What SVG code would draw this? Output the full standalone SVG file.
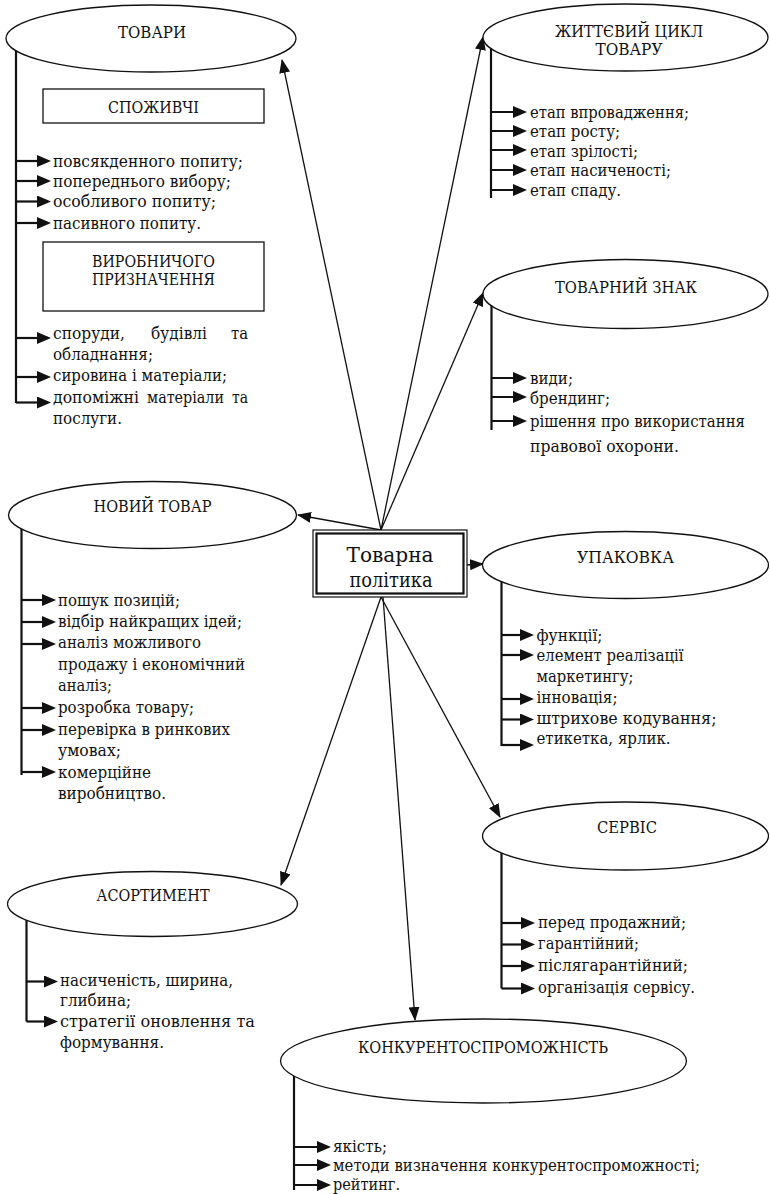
<svg xmlns="http://www.w3.org/2000/svg" width="770" height="1194" viewBox="0 0 770 1194">
<style>
text{font-family:"DejaVu Serif","Liberation Serif",serif;fill:#111}
.lbl{font-size:16px;text-anchor:middle}
.itm{font-size:16px}
.ctr{font-size:21px;text-anchor:middle}
.ell{fill:#fff;stroke:#111;stroke-width:1.3}
.box{fill:#fff;stroke:#111;stroke-width:1.3}
.vl{fill:none;stroke:#111;stroke-width:2.2}
.ia{stroke:#111;stroke-width:2.2;marker-end:url(#ih)}
.conn{stroke:#111;stroke-width:1.3;fill:none;marker-end:url(#ch)}
</style>
<defs>
<marker id="ih" markerUnits="userSpaceOnUse" markerWidth="14" markerHeight="12" refX="11" refY="6" orient="auto"><path d="M0,0 L14,6 L0,12 z" fill="#111"/></marker>
<marker id="ch" markerUnits="userSpaceOnUse" markerWidth="14" markerHeight="11" refX="13" refY="5.5" orient="auto"><path d="M0,0 L14,5.5 L0,11 z" fill="#111"/></marker>
</defs>
<rect width="770" height="1194" fill="#fff"/>

<g id="connectors">
<line class="conn" x1="381" y1="530" x2="282" y2="60"/>
<line class="conn" x1="381" y1="530" x2="483" y2="37"/>
<line class="conn" x1="381" y1="530" x2="483" y2="293"/>
<line class="conn" x1="381" y1="530" x2="298" y2="515"/>
<line class="conn" x1="466" y1="565" x2="483" y2="564"/>
<line class="conn" x1="381" y1="597" x2="500" y2="817"/>
<line class="conn" x1="383" y1="597" x2="415" y2="1020"/>
<line class="conn" x1="381" y1="597" x2="281" y2="885"/>
</g>

<g id="center">
<rect x="313" y="530" width="154" height="67" fill="#fff" stroke="#111" stroke-width="1.2"/>
<rect x="316.5" y="533.5" width="147" height="60" fill="none" stroke="#111" stroke-width="2.2"/>
<text class="ctr" x="390" y="562" textLength="87" lengthAdjust="spacingAndGlyphs">Товарна</text>
<text class="ctr" x="391" y="587" textLength="83" lengthAdjust="spacingAndGlyphs">політика</text>
</g>

<g id="tovary">
<ellipse class="ell" cx="151" cy="38.5" rx="145" ry="33.5"/>
<text class="lbl" x="152" y="38" textLength="68" lengthAdjust="spacingAndGlyphs">ТОВАРИ</text>
<path class="vl" d="M16,50.5 V403"/>
<rect class="box" x="43" y="89" width="221" height="34"/>
<text class="lbl" x="153.5" y="113" textLength="91" lengthAdjust="spacingAndGlyphs">СПОЖИВЧІ</text>
<line class="ia" x1="16" y1="161" x2="48" y2="161"/>
<line class="ia" x1="16" y1="181" x2="48" y2="181"/>
<line class="ia" x1="16" y1="201.5" x2="48" y2="201.5"/>
<line class="ia" x1="16" y1="223" x2="48" y2="223"/>
<text class="itm" x="53" y="167" textLength="190" lengthAdjust="spacingAndGlyphs">повсякденного попиту;</text>
<text class="itm" x="53" y="187" textLength="178" lengthAdjust="spacingAndGlyphs">попереднього вибору;</text>
<text class="itm" x="53" y="207" textLength="163" lengthAdjust="spacingAndGlyphs">особливого попиту;</text>
<text class="itm" x="53" y="229" textLength="148" lengthAdjust="spacingAndGlyphs">пасивного попиту.</text>
<rect class="box" x="43" y="242" width="221" height="69"/>
<text class="lbl" x="153.5" y="266.5" textLength="123" lengthAdjust="spacingAndGlyphs">ВИРОБНИЧОГО</text>
<text class="lbl" x="153.5" y="285" textLength="123" lengthAdjust="spacingAndGlyphs">ПРИЗНАЧЕННЯ</text>
<line class="ia" x1="16" y1="338" x2="48" y2="338"/>
<line class="ia" x1="16" y1="377" x2="48" y2="377"/>
<line class="ia" x1="16" y1="402.5" x2="48" y2="402.5"/>
<text class="itm" x="53" y="339" textLength="72" lengthAdjust="spacingAndGlyphs">споруди,</text>
<text class="itm" x="151" y="339" textLength="56" lengthAdjust="spacingAndGlyphs">будівлі</text>
<text class="itm" x="231" y="339" textLength="17" lengthAdjust="spacingAndGlyphs">та</text>
<text class="itm" x="53" y="360" textLength="100" lengthAdjust="spacingAndGlyphs">обладнання;</text>
<text class="itm" x="53" y="381" textLength="174" lengthAdjust="spacingAndGlyphs">сировина і матеріали;</text>
<text class="itm" x="53" y="403" textLength="86" lengthAdjust="spacingAndGlyphs">допоміжні</text>
<text class="itm" x="147" y="403" textLength="77" lengthAdjust="spacingAndGlyphs">матеріали</text>
<text class="itm" x="232" y="403" textLength="16" lengthAdjust="spacingAndGlyphs">та</text>
<text class="itm" x="53" y="424" textLength="69" lengthAdjust="spacingAndGlyphs">послуги.</text>
</g>

<g id="zhyttievyi-tsykl">
<ellipse class="ell" cx="625.5" cy="37.5" rx="142.5" ry="33.5"/>
<text class="lbl" x="629" y="37" textLength="148" lengthAdjust="spacingAndGlyphs">ЖИТТЄВИЙ ЦИКЛ</text>
<text class="lbl" x="629" y="55" textLength="67" lengthAdjust="spacingAndGlyphs">ТОВАРУ</text>
<path class="vl" d="M491,48.5 V198"/>
<line class="ia" x1="491" y1="112" x2="524" y2="112"/>
<line class="ia" x1="491" y1="131" x2="524" y2="131"/>
<line class="ia" x1="491" y1="150" x2="524" y2="150"/>
<line class="ia" x1="491" y1="170" x2="524" y2="170"/>
<line class="ia" x1="491" y1="190" x2="524" y2="190"/>
<text class="itm" x="530" y="118" textLength="159" lengthAdjust="spacingAndGlyphs">етап впровадження;</text>
<text class="itm" x="530" y="137" textLength="90" lengthAdjust="spacingAndGlyphs">етап росту;</text>
<text class="itm" x="530" y="156.5" textLength="108" lengthAdjust="spacingAndGlyphs">етап зрілості;</text>
<text class="itm" x="530" y="176" textLength="141" lengthAdjust="spacingAndGlyphs">етап насиченості;</text>
<text class="itm" x="530" y="196" textLength="91" lengthAdjust="spacingAndGlyphs">етап спаду.</text>
</g>

<g id="tovarnyi-znak">
<ellipse class="ell" cx="625.5" cy="294" rx="142.5" ry="34.5"/>
<text class="lbl" x="626" y="293" textLength="142" lengthAdjust="spacingAndGlyphs">ТОВАРНИЙ ЗНАК</text>
<path class="vl" d="M491.5,305.5 V430"/>
<line class="ia" x1="491.5" y1="378" x2="524" y2="378"/>
<line class="ia" x1="491.5" y1="397" x2="524" y2="397"/>
<line class="ia" x1="491.5" y1="421" x2="524" y2="421"/>
<text class="itm" x="530" y="384" textLength="43" lengthAdjust="spacingAndGlyphs">види;</text>
<text class="itm" x="530" y="404" textLength="80" lengthAdjust="spacingAndGlyphs">брендинг;</text>
<text class="itm" x="530" y="427" textLength="215" lengthAdjust="spacingAndGlyphs">рішення про використання</text>
<text class="itm" x="530" y="452" textLength="149" lengthAdjust="spacingAndGlyphs">правової охорони.</text>
</g>

<g id="novyi-tovar">
<ellipse class="ell" cx="152.5" cy="515" rx="144" ry="33.5"/>
<text class="lbl" x="152.5" y="512" textLength="118" lengthAdjust="spacingAndGlyphs">НОВИЙ ТОВАР</text>
<path class="vl" d="M21.5,529 V775"/>
<line class="ia" x1="21.5" y1="600" x2="53" y2="600"/>
<line class="ia" x1="21.5" y1="622" x2="53" y2="622"/>
<line class="ia" x1="21.5" y1="644" x2="53" y2="644"/>
<line class="ia" x1="21.5" y1="708" x2="53" y2="708"/>
<line class="ia" x1="21.5" y1="730" x2="53" y2="730"/>
<line class="ia" x1="21.5" y1="772" x2="53" y2="772"/>
<text class="itm" x="58" y="606" textLength="122" lengthAdjust="spacingAndGlyphs">пошук позицій;</text>
<text class="itm" x="58" y="627" textLength="184" lengthAdjust="spacingAndGlyphs">відбір найкращих ідей;</text>
<text class="itm" x="58" y="648" textLength="143" lengthAdjust="spacingAndGlyphs">аналіз можливого</text>
<text class="itm" x="58" y="670" textLength="187" lengthAdjust="spacingAndGlyphs">продажу і економічний</text>
<text class="itm" x="58" y="691" textLength="54" lengthAdjust="spacingAndGlyphs">аналіз;</text>
<text class="itm" x="58" y="713" textLength="136" lengthAdjust="spacingAndGlyphs">розробка товару;</text>
<text class="itm" x="58" y="735" textLength="172" lengthAdjust="spacingAndGlyphs">перевірка в ринкових</text>
<text class="itm" x="58" y="756" textLength="63" lengthAdjust="spacingAndGlyphs">умовах;</text>
<text class="itm" x="58" y="778" textLength="93" lengthAdjust="spacingAndGlyphs">комерційне</text>
<text class="itm" x="58" y="799" textLength="108" lengthAdjust="spacingAndGlyphs">виробництво.</text>
</g>

<g id="upakovka">
<ellipse class="ell" cx="625.5" cy="565" rx="143" ry="33.5"/>
<text class="lbl" x="625.5" y="563" textLength="97" lengthAdjust="spacingAndGlyphs">УПАКОВКА</text>
<path class="vl" d="M501.5,581.5 V746"/>
<line class="ia" x1="501.5" y1="635" x2="531" y2="635"/>
<line class="ia" x1="501.5" y1="655" x2="531" y2="655"/>
<line class="ia" x1="501.5" y1="699" x2="531" y2="699"/>
<line class="ia" x1="501.5" y1="719.5" x2="531" y2="719.5"/>
<line class="ia" x1="501.5" y1="745" x2="531" y2="745"/>
<text class="itm" x="536.5" y="641" textLength="66" lengthAdjust="spacingAndGlyphs">функції;</text>
<text class="itm" x="536.5" y="661" textLength="147" lengthAdjust="spacingAndGlyphs">елемент реалізації</text>
<text class="itm" x="536.5" y="682" textLength="97" lengthAdjust="spacingAndGlyphs">маркетингу;</text>
<text class="itm" x="536.5" y="703" textLength="81" lengthAdjust="spacingAndGlyphs">інновація;</text>
<text class="itm" x="536.5" y="724" textLength="180" lengthAdjust="spacingAndGlyphs">штрихове кодування;</text>
<text class="itm" x="536.5" y="744" textLength="134" lengthAdjust="spacingAndGlyphs">етикетка, ярлик.</text>
</g>

<g id="servis">
<ellipse class="ell" cx="625.5" cy="836" rx="143" ry="34"/>
<text class="lbl" x="627" y="833" textLength="60" lengthAdjust="spacingAndGlyphs">СЕРВІС</text>
<path class="vl" d="M501.5,853 V988.5"/>
<line class="ia" x1="501.5" y1="923" x2="532" y2="923"/>
<line class="ia" x1="501.5" y1="944.5" x2="532" y2="944.5"/>
<line class="ia" x1="501.5" y1="966" x2="532" y2="966"/>
<line class="ia" x1="501.5" y1="988.5" x2="532" y2="988.5"/>
<text class="itm" x="538" y="928" textLength="148" lengthAdjust="spacingAndGlyphs">перед продажний;</text>
<text class="itm" x="538" y="949" textLength="101" lengthAdjust="spacingAndGlyphs">гарантійний;</text>
<text class="itm" x="538" y="970.5" textLength="150" lengthAdjust="spacingAndGlyphs">післягарантійний;</text>
<text class="itm" x="538" y="993" textLength="157" lengthAdjust="spacingAndGlyphs">організація сервісу.</text>
</g>

<g id="asortyment">
<ellipse class="ell" cx="152.5" cy="904" rx="145" ry="32.5"/>
<text class="lbl" x="153" y="901" textLength="113" lengthAdjust="spacingAndGlyphs">АСОРТИМЕНТ</text>
<path class="vl" d="M26.5,920 V1021.5"/>
<line class="ia" x1="26.5" y1="981.5" x2="55" y2="981.5"/>
<line class="ia" x1="26.5" y1="1021.5" x2="55" y2="1021.5"/>
<text class="itm" x="60" y="986" textLength="173" lengthAdjust="spacingAndGlyphs">насиченість, ширина,</text>
<text class="itm" x="60" y="1006" textLength="71" lengthAdjust="spacingAndGlyphs">глибина;</text>
<text class="itm" x="60" y="1027" textLength="195" lengthAdjust="spacingAndGlyphs">стратегії оновлення та</text>
<text class="itm" x="60" y="1048" textLength="104" lengthAdjust="spacingAndGlyphs">формування.</text>
</g>

<g id="konkurentospromozhnist">
<ellipse class="ell" cx="483.5" cy="1061" rx="203" ry="42"/>
<text class="lbl" x="483" y="1053" textLength="250" lengthAdjust="spacingAndGlyphs">КОНКУРЕНТОСПРОМОЖНІСТЬ</text>
<path class="vl" d="M294,1076 V1190"/>
<line class="ia" x1="294" y1="1147" x2="328" y2="1147"/>
<line class="ia" x1="294" y1="1165" x2="328" y2="1165"/>
<line class="ia" x1="294" y1="1185" x2="328" y2="1185"/>
<text class="itm" x="333" y="1152" textLength="54" lengthAdjust="spacingAndGlyphs">якість;</text>
<text class="itm" x="333" y="1171" textLength="367" lengthAdjust="spacingAndGlyphs">методи визначення конкурентоспроможності;</text>
<text class="itm" x="333" y="1190" textLength="67" lengthAdjust="spacingAndGlyphs">рейтинг.</text>
</g>
</svg>
